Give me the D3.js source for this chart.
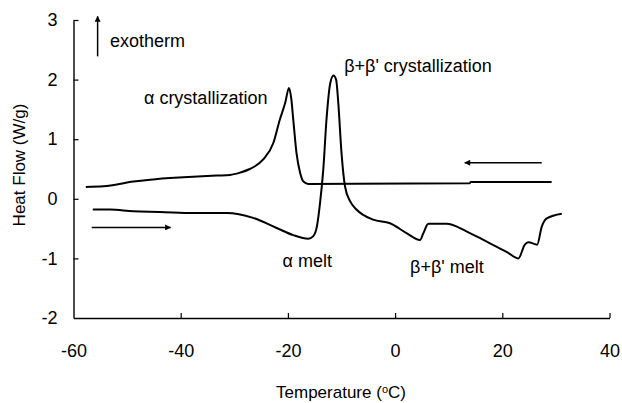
<!DOCTYPE html>
<html>
<head>
<meta charset="utf-8">
<script src="https://cdn.jsdelivr.net/npm/d3@7"></script>
<style>
  html, body { margin: 0; padding: 0; background: #fff; }
  svg { display: block; font-family: Arial, "Liberation Sans", sans-serif; }
</style>
</head>
<body>
<svg id="chart" width="622" height="403"></svg>
<script>
// DSC thermogram: cooling then reheating
const xTicks = [-60, -40, -20, 0, 20, 40];
const yTicks = [-2, -1, 0, 1, 2, 3];

// cooling run (temperature °C, heat flow W/g)
const coolTemp = [-57.7, -54.4, -48.8, -45.7, -39.5, -33.3, -30.8, -28.9, -27.1, -24.6, -22.7, -21.5, -20.5, -19.8, -19.4, -19.0, -18.4, -17.7, -17.1, -16.2, 13.9, 14.1, 29.2];
const coolFlow = [0.20, 0.21, 0.29, 0.32, 0.36, 0.39, 0.40, 0.44, 0.50, 0.66, 0.94, 1.33, 1.61, 1.86, 1.70, 1.33, 0.77, 0.43, 0.29, 0.25, 0.26, 0.28, 0.28];

// heating run
const heatTemp = [-56.4, -53.2, -48.8, -43.9, -37.6, -31.4, -26.5, -22.1, -19.0, -16.2, -15.3, -14.6, -14.0, -13.4, -12.8, -12.1, -11.5, -11.0, -10.6, -10.0, -9.35, -8.4, -7.2, -4.1, -0.95, 2.2, 4.65, 5.26, 6.2, 9.6, 13.4, 17.1, 20.8, 23.0, 24.2, 24.85, 26.1, 26.5, 27.35, 28.3, 31.1];
const heatFlow = [-0.18, -0.18, -0.21, -0.22, -0.24, -0.24, -0.32, -0.49, -0.61, -0.67, -0.63, -0.47, -0.07, 0.49, 1.33, 1.94, 2.07, 2.00, 1.61, 0.77, 0.21, -0.04, -0.18, -0.35, -0.41, -0.58, -0.69, -0.58, -0.42, -0.42, -0.55, -0.72, -0.89, -1.00, -0.77, -0.73, -0.76, -0.77, -0.47, -0.33, -0.25];

const svg = d3.select("#chart");
const plotLeft = 73.5, plotRight = 609.5, plotTop = 20, plotBottom = 318;

const x = d3.scaleLinear().domain([-60, 40]).range([plotLeft, plotRight]);
const y = d3.scaleLinear().domain([-2, 3]).range([plotBottom, plotTop]);

// axes: ticks point inward, plain hyphen for negatives
const fmt = d => String(d);
const xAxis = d3.axisBottom(x).tickValues(xTicks).tickFormat(fmt).tickSize(-5).tickSizeOuter(0).tickPadding(26);
const yAxis = d3.axisLeft(y).tickValues(yTicks).tickFormat(fmt).tickSize(-5).tickSizeOuter(0).tickPadding(16);

const gx = svg.append("g").attr("transform", `translate(0,${plotBottom})`).call(xAxis);
const gy = svg.append("g").attr("transform", `translate(${plotLeft},0)`).call(yAxis);

[gx, gy].forEach(g => {
  g.select(".domain").attr("stroke", "#000").attr("stroke-width", 1.4);
  g.selectAll(".tick line").attr("stroke", "#000").attr("stroke-width", 1.2);
  g.selectAll(".tick text").attr("fill", "#000").attr("font-size", 18)
    .attr("font-family", "Arial, 'Liberation Sans', sans-serif");
});
gy.selectAll(".tick").filter(d => d === -2).select("line").remove();
gx.selectAll(".tick").filter(d => d === -60).select("line").remove();

// axis titles
svg.append("text")
  .attr("transform", `translate(25,165) rotate(-90)`)
  .attr("text-anchor", "middle")
  .attr("font-size", 17)
  .text("Heat Flow (W/g)");

const xt = svg.append("text")
  .attr("x", 341).attr("y", 398)
  .attr("text-anchor", "middle")
  .attr("font-size", 17);
xt.append("tspan").text("Temperature (");
xt.append("tspan").attr("font-size", 11).attr("baseline-shift", "45%").text("o");
xt.append("tspan").text("C)");

// curves
const line = d3.line().x(d => x(d[0])).y(d => y(d[1])).curve(d3.curveMonotoneX);
const cool = coolTemp.map((t, i) => [t, coolFlow[i]]);
const heat = heatTemp.map((t, i) => [t, heatFlow[i]]);

svg.append("path").datum(cool).attr("d", line)
  .attr("fill", "none").attr("stroke", "#000").attr("stroke-width", 2).attr("stroke-linejoin", "round");
svg.append("path").datum(heat).attr("d", line)
  .attr("fill", "none").attr("stroke", "#000").attr("stroke-width", 2).attr("stroke-linejoin", "round");

// direction arrows
const defs = svg.append("defs");
defs.append("marker")
  .attr("id", "head").attr("viewBox", "0 0 10 10")
  .attr("refX", 9).attr("refY", 5)
  .attr("markerWidth", 8).attr("markerHeight", 6)
  .attr("markerUnits", "userSpaceOnUse")
  .attr("orient", "auto")
  .append("path").attr("d", "M0,0 L10,5 L0,10 Z").attr("fill", "#000");

function arrow(t1, v1, t2, v2) {
  svg.append("line")
    .attr("x1", x(t1)).attr("y1", y(v1))
    .attr("x2", x(t2)).attr("y2", y(v2))
    .attr("stroke", "#000").attr("stroke-width", 1.5)
    .attr("marker-end", "url(#head)");
}
arrow(-55.5, 2.39, -55.5, 3.06);   // exotherm up
arrow(-56.6, -0.48, -41.9, -0.48); // heating
arrow(27.35, 0.605, 13.0, 0.605);  // cooling

// annotations
function label(t, v, str) {
  svg.append("text").attr("x", x(t)).attr("y", y(v))
    .attr("font-size", 18).attr("fill", "#000").text(str);
}
label(-53.2, 2.55, "exotherm");
label(-46.85, 1.59, "\u03b1 crystallization");
label(-9.5, 2.13, "\u03b2+\u03b2' crystallization");
label(-21.0, -1.14, "\u03b1 melt");
label(2.8, -1.24, "\u03b2+\u03b2' melt");
</script>
</body>
</html>
